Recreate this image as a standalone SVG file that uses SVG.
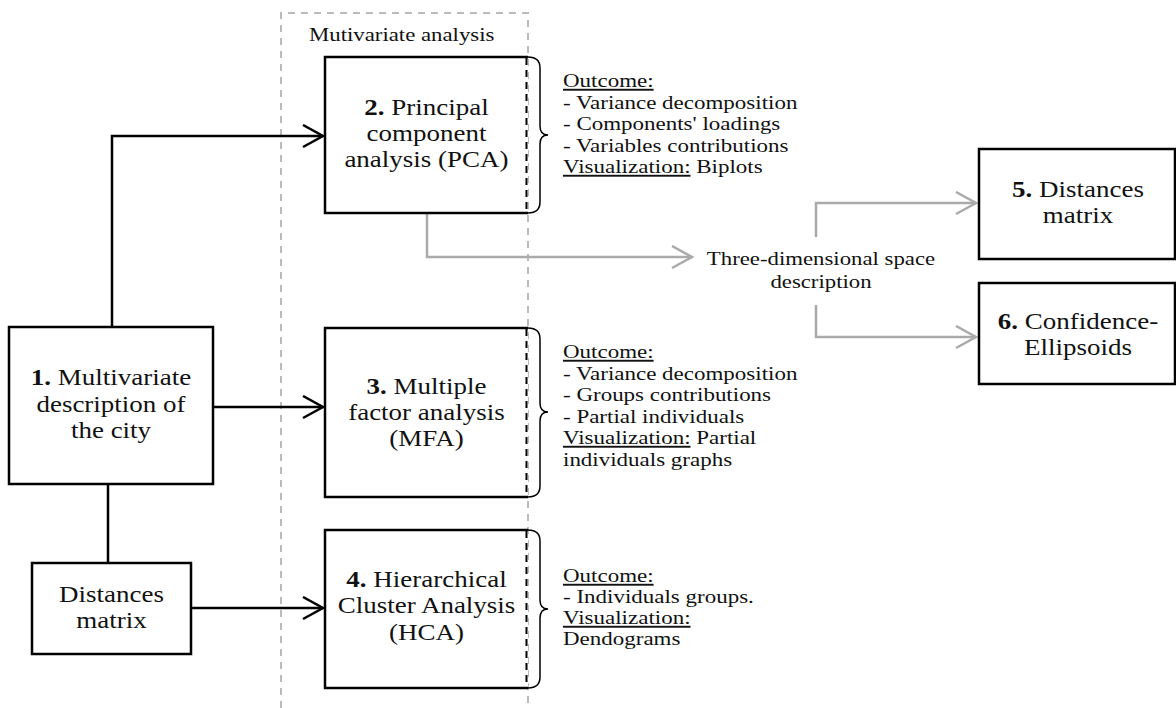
<svg xmlns="http://www.w3.org/2000/svg" width="1176" height="708" viewBox="0 0 1176 708">
  <style>
    .box { fill: #fff; stroke: #000; stroke-width: 2.5; }
    .edge { fill: none; stroke: #000; stroke-width: 2.5; }
    .edge-dash { fill: none; stroke: #000; stroke-width: 2; stroke-dasharray: 7 5; }
    .frame { fill: none; stroke: #bbb; stroke-width: 2; stroke-dasharray: 7 6; }
    .brace { fill: none; stroke: #000; stroke-width: 1.5; }
    .link { fill: none; stroke: #000; stroke-width: 2.5; }
    .link-grey { fill: none; stroke: #aaa; stroke-width: 2.5; }
    text { font-family: "Liberation Serif", "Times New Roman", serif; fill: #111; }
    .t-big { font-size: 23px; text-anchor: middle; }
    .t-small { font-size: 19px; }
    .t-mid { font-size: 19px; text-anchor: middle; }
    .b { font-weight: bold; }
    .u { text-decoration: underline; }
  </style>
  <defs>
    <marker id="open-arrow" markerWidth="24" markerHeight="26" refX="21" refY="12" orient="auto" markerUnits="userSpaceOnUse">
      <path d="M1,1 L21,12 L1,23" fill="none" stroke="#000" stroke-width="2.5"/>
    </marker>
    <marker id="open-arrow-grey" markerWidth="24" markerHeight="26" refX="21" refY="12" orient="auto" markerUnits="userSpaceOnUse">
      <path d="M1,1 L21,12 L1,23" fill="none" stroke="#aaa" stroke-width="2.5"/>
    </marker>
  </defs>

  <!-- multivariate analysis frame -->
  <g id="frame">
    <path class="frame" d="M281,708 L281,13 L528,13 L528,708"/>
    <g transform="translate(309 0) scale(1.2 1)">
      <text class="t-small" x="0" y="41">Mutivariate analysis</text>
    </g>
  </g>

  <!-- connectors -->
  <g id="connectors">
    <path class="link" d="M112,327 L112,136 L323,136" marker-end="url(#open-arrow)"/>
    <path class="link" d="M213,407 L323,407" marker-end="url(#open-arrow)"/>
    <path class="link" d="M108,484 L108,563"/>
    <path class="link" d="M191,608 L323,608" marker-end="url(#open-arrow)"/>
    <path class="link-grey" d="M427,213 L427,257 L692,257" marker-end="url(#open-arrow-grey)"/>
    <path class="link-grey" d="M816,237 L816,203 L976,203" marker-end="url(#open-arrow-grey)"/>
    <path class="link-grey" d="M816,305 L816,337 L976,337" marker-end="url(#open-arrow-grey)"/>
  </g>

  <!-- 1. city description -->
  <g id="node-1">
    <rect class="box" x="9" y="327" width="204" height="157"/>
    <g transform="translate(111 0) scale(1.174 1)">
      <text class="t-big" x="0" y="385"><tspan class="b">1.</tspan> Multivariate</text>
      <text class="t-big" x="0" y="412">description of</text>
      <text class="t-big" x="0" y="438">the city</text>
    </g>
  </g>

  <!-- distances matrix input -->
  <g id="node-dm">
    <rect class="box" x="32" y="563" width="159" height="91"/>
    <g transform="translate(111.5 0) scale(1.174 1)">
      <text class="t-big" x="0" y="602">Distances</text>
      <text class="t-big" x="0" y="628">matrix</text>
    </g>
  </g>

  <!-- 2. PCA -->
  <g id="node-2">
    <rect x="325" y="57" width="203" height="156" fill="#fff"/>
    <path class="edge" d="M528,57 L325,57 L325,213 L528,213"/>
    <line class="edge-dash" x1="526.5" y1="58" x2="526.5" y2="212"/>
    <g transform="translate(426.5 0) scale(1.174 1)">
      <text class="t-big" x="0" y="115"><tspan class="b">2.</tspan> Principal</text>
      <text class="t-big" x="0" y="141">component</text>
      <text class="t-big" x="0" y="167">analysis (PCA)</text>
    </g>
    <path class="brace" d="M528,57 Q540,57 540,68 L540,126 Q540,135 548,135 Q540,135 540,144 L540,202 Q540,213 528,213"/>
    <g transform="translate(563 0) scale(1.21 1)">
      <text class="t-small" x="0" y="87"><tspan class="u">Outcome:</tspan></text>
      <text class="t-small" x="0" y="109">- Variance decomposition</text>
      <text class="t-small" x="0" y="130">- Components' loadings</text>
      <text class="t-small" x="0" y="152">- Variables contributions</text>
      <text class="t-small" x="0" y="173"><tspan class="u">Visualization:</tspan> Biplots</text>
    </g>
  </g>

  <!-- 3. MFA -->
  <g id="node-3">
    <rect x="325" y="328" width="203" height="169" fill="#fff"/>
    <path class="edge" d="M528,328 L325,328 L325,497 L528,497"/>
    <line class="edge-dash" x1="526.5" y1="329" x2="526.5" y2="496"/>
    <g transform="translate(426.5 0) scale(1.174 1)">
      <text class="t-big" x="0" y="394"><tspan class="b">3.</tspan> Multiple</text>
      <text class="t-big" x="0" y="420">factor analysis</text>
      <text class="t-big" x="0" y="446">(MFA)</text>
    </g>
    <path class="brace" d="M528,328 Q540,328 540,339 L540,403 Q540,412 548,412 Q540,412 540,421 L540,486 Q540,497 528,497"/>
    <g transform="translate(563 0) scale(1.21 1)">
      <text class="t-small" x="0" y="358"><tspan class="u">Outcome:</tspan></text>
      <text class="t-small" x="0" y="380">- Variance decomposition</text>
      <text class="t-small" x="0" y="401">- Groups contributions</text>
      <text class="t-small" x="0" y="423">- Partial individuals</text>
      <text class="t-small" x="0" y="444"><tspan class="u">Visualization:</tspan> Partial</text>
      <text class="t-small" x="0" y="466">individuals graphs</text>
    </g>
  </g>

  <!-- 4. HCA -->
  <g id="node-4">
    <rect x="325" y="530" width="203" height="158" fill="#fff"/>
    <path class="edge" d="M528,530 L325,530 L325,688 L528,688"/>
    <line class="edge-dash" x1="526.5" y1="531" x2="526.5" y2="687"/>
    <g transform="translate(426.5 0) scale(1.174 1)">
      <text class="t-big" x="0" y="587"><tspan class="b">4.</tspan> Hierarchical</text>
      <text class="t-big" x="0" y="613">Cluster Analysis</text>
      <text class="t-big" x="0" y="640">(HCA)</text>
    </g>
    <path class="brace" d="M528,530 Q540,530 540,541 L540,600 Q540,609 548,609 Q540,609 540,618 L540,677 Q540,688 528,688"/>
    <g transform="translate(563 0) scale(1.21 1)">
      <text class="t-small" x="0" y="582"><tspan class="u">Outcome:</tspan></text>
      <text class="t-small" x="0" y="603">- Individuals groups.</text>
      <text class="t-small" x="0" y="624"><tspan class="u">Visualization:</tspan></text>
      <text class="t-small" x="0" y="645">Dendograms</text>
    </g>
  </g>

  <!-- intermediate label -->
  <g id="node-3d">
    <g transform="translate(821 0) scale(1.2 1)">
      <text class="t-mid" x="0" y="265">Three-dimensional space</text>
      <text class="t-mid" x="0" y="288">description</text>
    </g>
  </g>

  <!-- 5. distances matrix -->
  <g id="node-5">
    <rect class="box" x="979" y="149" width="196" height="110"/>
    <g transform="translate(1078 0) scale(1.174 1)">
      <text class="t-big" x="0" y="197"><tspan class="b">5.</tspan> Distances</text>
      <text class="t-big" x="0" y="223">matrix</text>
    </g>
  </g>

  <!-- 6. confidence ellipsoids -->
  <g id="node-6">
    <rect class="box" x="979" y="283" width="196" height="101"/>
    <g transform="translate(1078 0) scale(1.174 1)">
      <text class="t-big" x="0" y="329"><tspan class="b">6.</tspan> Confidence-</text>
      <text class="t-big" x="0" y="355">Ellipsoids</text>
    </g>
  </g>
</svg>
